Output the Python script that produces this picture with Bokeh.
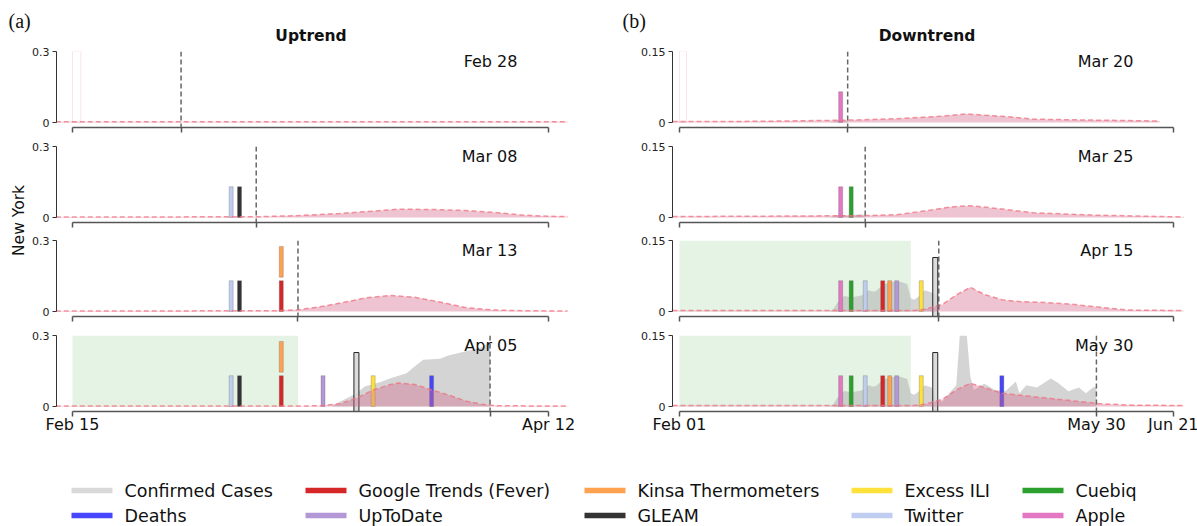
import pandas as pd
from math import pi
from bokeh.plotting import figure
from bokeh.models import Range1d, FixedTicker, Span, Label, ColumnDataSource
from bokeh.layouts import column, row
from bokeh.embed import file_html
from bokeh.resources import INLINE
from bokeh.core.properties import value

YEAR = 2020

# ---------------------------------------------------------------- data
legend_names = ["Confirmed Cases", "Deaths", "Google Trends (Fever)", " UpToDate",
                "Kinsa Thermometers", "GLEAM", "Excess ILI", "Twitter", "Cuebiq", "Apple"]
legend_keys = ["Confirmed Cases", "Deaths", "Google Trends (Fever)", "UpToDate",
               "Kinsa Thermometers", "GLEAM", "Excess ILI", "Twitter", "Cuebiq", "Apple"]
legend_colors = ["#d9d9d9", "#4646fa", "#d62728", "#b497d6",
                 "#ffa14f", "#333333", "#ffe13c", "#bfcdf0", "#2ca02c", "#e377c2"]

# ---- (a) Uptrend, New York
up_title = "Uptrend"
up_panel_dates = ["02-28", "03-08", "03-13", "04-05"]
up_axis_ends = ["02-15", "04-12"]
up_tick_labels = {"02-15": "Feb 15", "04-12": "Apr 12"}
up_ymax = 0.3
up_ytick_label = "0.3"
up_ind = ["Twitter", "GLEAM", "Google Trends (Fever)", "Kinsa Thermometers",
          "UpToDate", "Confirmed Cases", "Excess ILI", "Deaths"]
up_ind_dates = ["03-05", "03-06", "03-11", "03-11", "03-16", "03-20", "03-22", "03-29"]
up_ind_base = [0, 0, 0, 0.145, 0, None, 0, 0]
up_ind_top = [0.13, 0.13, 0.13, 0.275, 0.13, 0.228, 0.13, 0.13]
up_green = [None, None, None, ("02-15", "03-13")]
up_ghost = ("02-15", "02-16")
up_pred_dates = [
    ["02-13", "04-15"],
    ["02-13", "03-08", "03-13", "03-18", "03-22", "03-25", "03-29", "04-02", "04-06", "04-09", "04-12", "04-15"],
    ["02-13", "03-10", "03-13", "03-16", "03-19", "03-21", "03-24", "03-27", "03-30", "04-02", "04-05", "04-09", "04-15"],
    ["02-13", "03-14", "03-16", "03-18", "03-20", "03-22", "03-24", "03-25", "03-27", "03-29", "03-31", "04-02", "04-04", "04-06", "04-15"],
]
up_pred_vals = [
    [0.003, 0.003],
    [0.002, 0.003, 0.008, 0.017, 0.027, 0.035, 0.034, 0.03, 0.02, 0.01, 0.005, 0.004],
    [0.002, 0.003, 0.007, 0.022, 0.042, 0.057, 0.068, 0.06, 0.04, 0.017, 0.007, 0.003, 0.002],
    [0.002, 0.002, 0.004, 0.012, 0.035, 0.07, 0.092, 0.099, 0.093, 0.07, 0.049, 0.024, 0.009, 0.003, 0.002],
]
up_case_dates = [[], [], [],
                 ["03-17", "03-18", "03-20", "03-21", "03-23", "03-24", "03-26", "03-27", "03-28",
                  "03-30", "03-31", "04-02", "04-03", "04-04", "04-05"]]
up_case_vals = [[], [], [],
                [0, 0.02, 0.055, 0.085, 0.105, 0.118, 0.14, 0.17, 0.198, 0.202, 0.215, 0.232, 0.24, 0.25, 0.27]]

# ---- (b) Downtrend, New York
dn_title = "Downtrend"
dn_panel_dates = ["03-20", "03-25", "04-15", "05-30"]
dn_axis_ends = ["02-01", "06-21"]
dn_tick_labels = {"02-01": "Feb 01", "05-30": "May 30", "06-21": "Jun 21"}
dn_ymax = 0.15
dn_ytick_label = "0.15"
dn_ind = ["Apple", "Cuebiq", "Twitter", "Google Trends (Fever)", "Kinsa Thermometers",
          "UpToDate", "Excess ILI", "Confirmed Cases", "Deaths"]
dn_ind_dates = ["03-18", "03-21", "03-25", "03-30", "04-01", "04-03", "04-10", "04-14", "05-03"]
dn_ind_base = [0, 0, 0, 0, 0, 0, 0, None, 0]
dn_ind_top = [0.065, 0.065, 0.065, 0.065, 0.065, 0.065, 0.065, 0.114, 0.065]
dn_green = [None, None, ("02-01", "04-07"), ("02-01", "04-07")]
dn_ghost = ("02-01", "02-03")
dn_pred_dates = [
    ["01-30", "02-15", "03-01", "03-20", "04-03", "04-15", "04-23", "05-05", "05-12", "06-08", "06-17"],
    ["01-30", "03-01", "03-25", "04-03", "04-12", "04-18", "04-24", "05-03", "05-12", "05-30", "06-18", "06-24"],
    ["01-30", "04-08", "04-11", "04-16", "04-20", "04-24", "04-28", "05-03", "05-08", "05-15", "05-22", "05-31", "06-08", "06-24"],
    ["01-30", "04-08", "04-11", "04-16", "04-20", "04-24", "04-28", "05-03", "05-13", "05-22", "05-31", "06-08", "06-24"],
]
dn_pred_vals = [
    [0.002, 0.002, 0.003, 0.005, 0.008, 0.013, 0.018, 0.012, 0.007, 0.004, 0.003],
    [0.002, 0.003, 0.004, 0.006, 0.015, 0.022, 0.025, 0.018, 0.01, 0.005, 0.002, 0.001],
    [0.002, 0.002, 0.005, 0.015, 0.035, 0.051, 0.036, 0.025, 0.021, 0.019, 0.016, 0.009, 0.003, 0.002],
    [0.002, 0.002, 0.005, 0.015, 0.035, 0.049, 0.04, 0.028, 0.02, 0.013, 0.006, 0.003, 0.002],
]
dn_case_dates = [
    ["03-15", "03-17", "03-18", "03-19", "03-20"],
    ["03-15", "03-17", "03-18", "03-20", "03-22", "03-24", "03-25"],
    ["03-15", "03-16", "03-17", "03-19", "03-21", "03-24", "03-26", "03-27", "03-28", "03-30",
     "04-01", "04-04", "04-06", "04-07", "04-08", "04-09", "04-11", "04-13", "04-15"],
    ["03-15", "03-16", "03-17", "03-19", "03-21", "03-24", "03-26", "03-27", "03-28", "03-30",
     "04-01", "04-04", "04-06", "04-07", "04-08", "04-09", "04-11", "04-13", "04-14", "04-16",
     "04-18", "04-20", "04-21", "04-23", "04-24", "04-25", "04-28", "05-01", "05-04", "05-07",
     "05-08", "05-10", "05-13", "05-17", "05-19", "05-22", "05-25", "05-27", "05-29", "05-30"],
]
dn_case_vals = [
    [0, 0.004, 0.006, 0.004, 0.003],
    [0, 0.005, 0.007, 0.004, 0.006, 0.007, 0.005],
    [0, 0.006, 0.018, 0.033, 0.03, 0.034, 0.045, 0.042, 0.043, 0.056,
     0.062, 0.063, 0.058, 0.028, 0.025, 0.03, 0.045, 0.04, 0.032],
    [0, 0.006, 0.018, 0.033, 0.03, 0.034, 0.045, 0.042, 0.043, 0.056,
     0.062, 0.063, 0.058, 0.028, 0.025, 0.03, 0.045, 0.04, 0.015, 0.01,
     0.028, 0.045, 0.15, 0.15, 0.064, 0.035, 0.048, 0.035, 0.032, 0.053,
     0.028, 0.045, 0.04, 0.059, 0.05, 0.032, 0.04, 0.028, 0.04, 0.042],
]

y_label = "New York"
panel_labels = ["(a)", "(b)"]

# ---------------------------------------------------------------- helpers
COLOR = dict(zip(legend_keys, legend_colors))
FONT = "DejaVu Sans"
FRAME_W, FRAME_H, ZERO_PX = 511, 76, 71
GUT_W = 29
LEFT_B = (26, 10)
RIGHT_B = (95, 15)


def ms(md):
    return pd.Timestamp(f"{YEAR}-{md}").value / 1e6


def build_panel(cfg, k, borders):
    ymax = cfg["ymax"]
    ymin = -(FRAME_H - ZERO_PX) / ZERO_PX * ymax
    first, last = ms(cfg["ends"][0]), ms(cfg["ends"][1])
    padl, padr = cfg["pad"]
    per_px = (last - first) / (FRAME_W - padl - padr)
    x0, x1 = first - padl * per_px, last + padr * per_px
    bl, br, bt, bb = borders
    cur = cfg["dates"][k]
    cur_ms = ms(cur)
    bottom = (k == 3)

    p = figure(x_axis_type="datetime", x_range=Range1d(x0, x1), y_range=Range1d(ymin, ymax),
               frame_width=FRAME_W, frame_height=FRAME_H,
               min_border_left=bl, min_border_right=br, min_border_top=bt, min_border_bottom=bb,
               toolbar_location=None, output_backend="svg")
    p.outline_line_color = None
    p.grid.visible = False
    p.background_fill_color = "white"
    p.border_fill_color = "white"

    # green shaded window
    g = cfg["green"][k]
    if g is not None:
        p.quad(left=[ms(g[0])], right=[ms(g[1])], bottom=[0], top=[ymax],
               fill_color="#2ca02c", fill_alpha=0.13, line_color=None)
    # faint ghost bar in first panel
    if k == 0:
        gh = cfg["ghost"]
        p.quad(left=[ms(gh[0])], right=[ms(gh[1])], bottom=[0], top=[ymax],
               fill_color=None, line_color="#f08090", line_alpha=0.22, line_width=1)
    # confirmed cases area
    cd = cfg["case_dates"][k]
    if cd:
        p.varea(x=[ms(v) for v in cd], y1=0, y2=cfg["case_vals"][k],
                fill_color="#b0b0b0", fill_alpha=0.55)
    # indicator bars
    xs, ys, hs, cs = [], [], [], []
    cx, cy, ch = [], [], []
    for name, dt, base, top in zip(cfg["ind"], cfg["ind_dates"], cfg["ind_base"], cfg["ind_top"]):
        if ms(dt) >= cur_ms:
            continue
        b = ymin if base is None else base
        if name == "Confirmed Cases":
            cx.append(ms(dt)); cy.append((b + top) / 2); ch.append(top - b)
        else:
            xs.append(ms(dt)); ys.append((b + top) / 2); hs.append(top - b); cs.append(COLOR[name])
    if xs:
        src = ColumnDataSource(dict(x=xs, y=ys, h=hs, c=cs))
        p.rect(x="x", y="y", width=4, height="h", width_units="screen", source=src,
               fill_color="c", line_color="#555555", line_alpha=0.35, line_width=0.8)
    if cx:
        p.rect(x=cx, y=cy, width=5, height=ch, width_units="screen",
               fill_color="#d6d6d6", fill_alpha=0.85, line_color="#222222", line_width=1)
    # predicted curve
    pdx = [ms(v) for v in cfg["pred_dates"][k]]
    pdy = cfg["pred_vals"][k]
    p.varea(x=pdx, y1=0, y2=pdy, fill_color="#d76b8e", fill_alpha=0.4)
    p.line(x=pdx, y=pdy, line_color="#f07080", line_alpha=0.75, line_width=1.5, line_dash="5 3")
    # current date marker
    p.add_layout(Span(location=cur_ms, dimension="height", line_color="#666666",
                      line_dash="5 3", line_width=1.5))
    # date label
    p.add_layout(Label(x=x0 + 0.902 * (x1 - x0), y=ymax,
                       text=pd.Timestamp(f"{YEAR}-{cur}").strftime("%b %d"),
                       text_align="right", text_baseline="top", text_font=FONT,
                       text_font_size="16px", text_color="#111111"))

    # y axis
    ya = p.yaxis[0]
    ya.ticker = FixedTicker(ticks=[0, ymax])
    ya.major_label_overrides = {0: "0", ymax: cfg["ytick"]}
    ya.bounds = (0, ymax)
    ya.axis_line_color = "#333333"
    ya.axis_line_width = 1
    ya.major_tick_line_color = "#333333"
    ya.major_tick_out = 4
    ya.major_tick_in = 0
    ya.minor_tick_line_color = None
    ya.major_label_standoff = 3
    ya.major_label_text_font = FONT
    ya.major_label_text_font_size = "11px"
    ya.major_label_text_color = "#222222"

    # x axis
    xa = p.xaxis[0]
    ticks = [first, cur_ms, last]
    xa.ticker = FixedTicker(ticks=ticks)
    if bottom:
        lab = {ms(d_): t for d_, t in cfg["tick_labels"].items()}
        xa.major_label_overrides = {t: lab.get(t, "") for t in ticks}
        xa.major_label_text_font_size = "16px"
        xa.major_label_standoff = -2
    else:
        xa.major_label_overrides = {t: "" for t in ticks}
        xa.major_label_text_font_size = "0px"
        xa.major_label_standoff = 0
    xa.bounds = (first, last)
    xa.axis_line_color = "#555555"
    xa.axis_line_width = 1.5
    xa.major_tick_line_color = "#555555"
    xa.major_tick_line_width = 1.5
    xa.major_tick_out = 5
    xa.major_tick_in = 0
    xa.minor_tick_line_color = None
    xa.major_label_text_font = FONT
    xa.major_label_text_color = "#111111"
    return p


up_cfg = dict(ymax=up_ymax, ytick=up_ytick_label, ends=up_axis_ends, pad=(16, 19), dates=up_panel_dates,
              tick_labels=up_tick_labels, ind=up_ind, ind_dates=up_ind_dates, ind_base=up_ind_base,
              ind_top=up_ind_top, green=up_green, ghost=up_ghost, pred_dates=up_pred_dates,
              pred_vals=up_pred_vals, case_dates=up_case_dates, case_vals=up_case_vals)
dn_cfg = dict(ymax=dn_ymax, ytick=dn_ytick_label, ends=dn_axis_ends, pad=(7, 10), dates=dn_panel_dates,
              tick_labels=dn_tick_labels, ind=dn_ind, ind_dates=dn_ind_dates, ind_base=dn_ind_base,
              ind_top=dn_ind_top, green=dn_green, ghost=dn_ghost, pred_dates=dn_pred_dates,
              pred_vals=dn_pred_vals, case_dates=dn_case_dates, case_vals=dn_case_vals)

# vertical borders per panel (top, bottom)
VB = [(7, 9), (10, 9), (9, 9), (10, 28)]
left_col = column([build_panel(up_cfg, k, (LEFT_B[0], LEFT_B[1], VB[k][0], VB[k][1])) for k in range(4)])
right_col = column([build_panel(dn_cfg, k, (RIGHT_B[0], RIGHT_B[1], VB[k][0], VB[k][1])) for k in range(4)])
COL_H = sum(FRAME_H + a + b for a, b in VB)
LEFT_W = LEFT_B[0] + FRAME_W + LEFT_B[1]
RIGHT_W = RIGHT_B[0] + FRAME_W + RIGHT_B[1]
TOTAL_W = GUT_W + LEFT_W + RIGHT_W


def blank(w, h):
    f = figure(width=w, height=h, x_range=Range1d(0, w), y_range=Range1d(0, h),
               x_axis_location=None, y_axis_location=None, toolbar_location=None,
               output_backend="svg", min_border=0)
    f.outline_line_color = None
    f.grid.visible = False
    return f


# header with panel letters and titles
HDR_H = 44
hdr = blank(TOTAL_W, HDR_H)
for txt, x in zip(panel_labels, [8, 622]):
    hdr.add_layout(Label(x=x, y=24, text=txt, text_font="Liberation Serif", text_font_size="20px",
                         text_baseline="middle", text_align="left", text_color="#111111"))
for txt, x in zip([up_title, dn_title],
                  [GUT_W + LEFT_B[0] + FRAME_W / 2, GUT_W + LEFT_W + RIGHT_B[0] + FRAME_W / 2]):
    hdr.add_layout(Label(x=x, y=9, text=txt, text_font=FONT, text_font_size="15.5px",
                         text_font_style="bold", text_baseline="middle", text_align="center",
                         text_color="#111111"))

# y label gutter
gut = blank(GUT_W, COL_H)
gut.add_layout(Label(x=18, y=COL_H - 176, text=y_label, angle=pi / 2, text_font=FONT,
                     text_font_size="15.5px", text_align="center", text_baseline="middle",
                     text_color="#111111"))

# legend (5 columns x 2 rows, column-major)
LEG_H = 87
leg = blank(TOTAL_W, LEG_H)
col_x = [71, 305, 584, 851, 1022]
row_y = [36, 11]
sx, sy, tx, tc = [], [], [], []
for i, (nm, c) in enumerate(zip(legend_names, legend_colors)):
    sx.append(col_x[i // 2]); sy.append(row_y[i % 2]); tx.append(nm); tc.append(c)
lsrc = ColumnDataSource(dict(x0=sx, x1=[v + 41 for v in sx], y=sy, tx=[v + 53 for v in sx], t=tx, c=tc))
leg.segment(x0="x0", y0="y", x1="x1", y1="y", line_color="c", line_width=5.5, source=lsrc)
leg.text(x="tx", y="y", text="t", text_font=value(FONT), text_font_size=value("17.5px"),
         text_baseline="middle", text_align="left", text_color="#111111", source=lsrc)

layout = column(hdr, row(gut, left_col, right_col), leg)

open("out.html", "w").write(file_html(layout, INLINE))
